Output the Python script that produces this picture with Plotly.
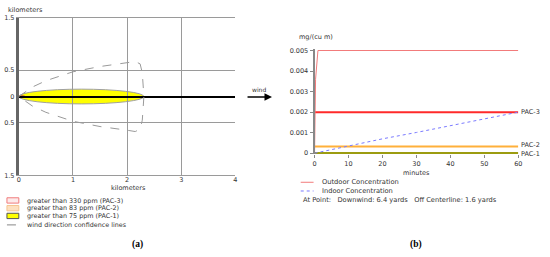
import plotly.graph_objects as go

W, H = 550, 257

# ---------------- data: footprint (left panel) ----------------
km_ticks = [0, 1, 2, 3, 4]
cross_ticks = [-1.5, -0.5, 0, 0.5, 1.5]
cross_tick_text = ["1.5", "0.5", "0", "0.5", "1.5"]
plume_length_km = 2.31          # yellow PAC-1 zone length
plume_halfwidth_km = 0.14       # yellow PAC-1 zone half width
core_length_km = 0.12           # tiny PAC-2/PAC-3 core at source
core_halfwidth_km = 0.03
conf_x = [0, 0.25, 0.5, 1.0, 1.5, 2.0, 2.15, 2.24, 2.28, 2.31,
          2.28, 2.24, 2.15, 2.0, 1.5, 1.0, 0.5, 0.25, 0]
conf_y = [0, 0.18, 0.30, 0.47, 0.57, 0.64, 0.665, 0.62, 0.45, 0,
          -0.45, -0.62, -0.665, -0.64, -0.57, -0.47, -0.30, -0.18, 0]
legend_a = ["greater than 330 ppm (PAC-3)", "greater than 83 ppm (PAC-2)",
            "greater than 75 ppm (PAC-1)", "wind direction confidence lines"]

# ---------------- data: concentration (right panel) ----------------
minutes_ticks = [0, 10, 20, 30, 40, 50, 60]
conc_ticks = [0, 0.001, 0.002, 0.003, 0.004, 0.005]
conc_tick_text = ["0", "0.001", "0.002", "0.003", "0.004", "0.005"]
outdoor_t = [0, 0.3, 1.0, 60]
outdoor_c = [0, 0.0036, 0.005, 0.005]
indoor_t = [0, 10, 20, 30, 40, 50, 60]
indoor_c = [0, 0.00036, 0.00070, 0.00101, 0.00135, 0.00168, 0.0020]
pac_names = ["PAC-3", "PAC-2", "PAC-1"]
pac_values = [0.002, 0.00033, 0.00001]
pac_colors = ["#ff2a2a", "#ffb03a", "#9c9c10"]
point_text = "At Point:   Downwind: 6.4 yards   Off Centerline: 1.6 yards"

FONT = "DejaVu Sans"
TXT = "#333333"


def px(x):
    return x / W


def py(y):
    return 1 - y / H


fig = go.Figure()

# confidence lines
fig.add_trace(go.Scatter(x=conf_x, y=conf_y, mode="lines",
                         line=dict(color="#9a9a9a", width=1, dash="dash"),
                         xaxis="x", yaxis="y", hoverinfo="skip"))

# right panel lines
for name, val, col in zip(pac_names, pac_values, pac_colors):
    fig.add_trace(go.Scatter(x=[minutes_ticks[0], minutes_ticks[-1]], y=[val, val],
                             mode="lines", line=dict(color=col, width=2),
                             xaxis="x2", yaxis="y2", hoverinfo="skip"))
fig.add_trace(go.Scatter(x=outdoor_t, y=outdoor_c, mode="lines",
                         line=dict(color="#f27b7b", width=1),
                         xaxis="x2", yaxis="y2", hoverinfo="skip"))
fig.add_trace(go.Scatter(x=indoor_t, y=indoor_c, mode="lines",
                         line=dict(color="#7a7aff", width=1, dash="dot"),
                         xaxis="x2", yaxis="y2", hoverinfo="skip"))

shapes = [
    dict(type="circle", xref="x", yref="y", x0=0, x1=plume_length_km,
         y0=-plume_halfwidth_km, y1=plume_halfwidth_km,
         fillcolor="#ffff00", line=dict(color="#a0a0a0", width=1), layer="below"),
    dict(type="circle", xref="x", yref="y", x0=0, x1=core_length_km,
         y0=-core_halfwidth_km, y1=core_halfwidth_km,
         fillcolor="#d07030", line=dict(width=0), layer="below"),
]

# left legend boxes
box_styles = [("#fdeaea", "#f07c7c"), ("#fde0c0", "#f6c590"), ("#ffff00", "#555555")]
box_rows = [200, 208, 216]
for (fc, lc), yy in zip(box_styles, box_rows):
    shapes.append(dict(type="rect", xref="paper", yref="paper",
                       x0=px(5), x1=px(17), y0=py(yy + 5.5), y1=py(yy),
                       fillcolor=fc, line=dict(color=lc, width=1)))
shapes.append(dict(type="line", xref="paper", yref="paper",
                   x0=px(5), x1=px(17), y0=py(228), y1=py(228),
                   line=dict(color="#888888", width=1, dash="dash")))
# right legend samples
shapes.append(dict(type="line", xref="paper", yref="paper",
                   x0=px(302), x1=px(315), y0=py(184), y1=py(184),
                   line=dict(color="#f27b7b", width=1)))
shapes.append(dict(type="line", xref="paper", yref="paper",
                   x0=px(302), x1=px(315), y0=py(193), y1=py(193),
                   line=dict(color="#7a7aff", width=1, dash="dot")))

ann = []


def txt(x, y, s, size=6.5, xanchor="left", bold=False, family=FONT, color=TXT):
    ann.append(dict(x=px(x), y=py(y), xref="paper", yref="paper", text=s,
                    showarrow=False, xanchor=xanchor, yanchor="middle",
                    font=dict(family=family, size=size, color=color)))


txt(4, 6, "kilometers", 6.5)
txt(128, 190, "kilometers", 6.5, "center")
for s, yy in zip(legend_a, [203, 211, 219, 228]):
    txt(23, yy, s, 6.4)
txt(137, 248, "<b>(a)</b>", 9.5, "center", family="Liberation Serif", color="#000")
txt(419, 248, "<b>(b)</b>", 9.5, "center", family="Liberation Serif", color="#000")
txt(298, 34, "mg/(cu m)", 6.5)
txt(419, 174, "minutes", 6.5, "center")
txt(260, 88, "wind", 6, "center")
txt(322, 184, "Outdoor Concentration", 6.7)
txt(322, 193, "Indoor Concentration", 6.7)
txt(302, 202, point_text, 6.7)

# wind arrow
ann.append(dict(x=px(273), y=py(96), ax=-26, ay=0, xref="paper", yref="paper",
                axref="pixel", ayref="pixel", text="", showarrow=True,
                arrowhead=2, arrowsize=1, arrowwidth=1.5, arrowcolor="#000"))

# PAC labels
pac_label_y = [0.002, 0.00042, -0.00002]
for name, yv in zip(pac_names, pac_label_y):
    ann.append(dict(x=minutes_ticks[-1], y=yv, xref="x2", yref="y2", text=name,
                    showarrow=False, xanchor="left", yanchor="middle", xshift=1,
                    font=dict(family=FONT, size=6.5, color=TXT)))

c_lo, c_hi = -0.00005, 0.00505
ppu = 106 / 0.005

fig.update_layout(
    width=W, height=H, margin=dict(l=0, r=0, t=0, b=0),
    paper_bgcolor="white", plot_bgcolor="white", showlegend=False,
    font=dict(family=FONT, size=7, color=TXT),
    shapes=shapes, annotations=ann,
    xaxis=dict(domain=[px(17), px(236)], range=[0, 4], tickvals=km_ticks,
               showgrid=True, gridcolor="#9a9a9a", gridwidth=1,
               showline=True, mirror=True, linecolor="#9a9a9a", linewidth=1,
               zeroline=False, ticks="", tickfont=dict(size=6.5), anchor="y",
               ticklabelstandoff=-2, fixedrange=True),
    yaxis=dict(domain=[py(177), py(14)], range=[-1.5, 1.5], tickvals=cross_ticks,
               ticktext=cross_tick_text, showgrid=True, gridcolor="#9a9a9a",
               zeroline=True, zerolinecolor="#000000", zerolinewidth=2,
               showline=True, linecolor="#666666", linewidth=3, ticks="",
               tickfont=dict(size=6.5), anchor="x", fixedrange=True),
    xaxis2=dict(domain=[px(316), px(522)], range=[0, 60], tickvals=minutes_ticks,
                showgrid=False, zeroline=False, showline=False,
                ticks="outside", ticklen=3, tickcolor="#888888",
                tickfont=dict(size=6.5), anchor="y2", fixedrange=True),
    yaxis2=dict(domain=[py(154 - c_lo * ppu), py(154 - c_hi * ppu)], range=[c_lo, c_hi],
                tickvals=conc_ticks, ticktext=conc_tick_text,
                showgrid=False, zeroline=False, showline=True,
                linecolor="#888888", linewidth=2, ticks="outside", ticklen=3,
                tickcolor="#888888", tickfont=dict(size=6.5), anchor="x2",
                fixedrange=True),
)

fig.write_html("out.html", config={"displayModeBar": False},
               post_script="document.body.style.margin='0';document.body.style.overflow='hidden';")
